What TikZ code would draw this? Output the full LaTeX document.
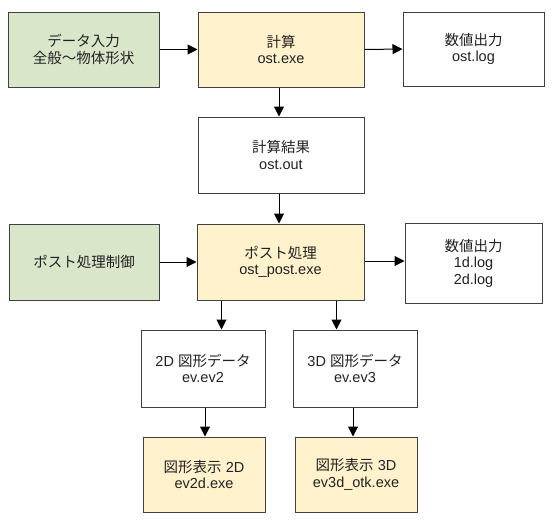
\documentclass[tikz,border=0pt]{standalone}
\usepackage{fontspec}
\setmainfont{Liberation Sans}
\newfontfamily\cjk{Noto Sans CJK JP}
\usetikzlibrary{arrows.meta}
\definecolor{boxgreen}{HTML}{DAE6CA}
\definecolor{boxyellow}{HTML}{FFF2CC}
\definecolor{boxline}{HTML}{404040}
\definecolor{txt}{HTML}{222222}
\tikzset{
  basebox/.style={draw=boxline, line width=1pt, inner sep=0pt, align=center,
    text=txt, font=\fontsize{14.5}{16.5}\selectfont},
  greenbox/.style={basebox, fill=boxgreen},
  yellowbox/.style={basebox, fill=boxyellow},
  whitebox/.style={basebox, fill=white},
  arr/.style={draw=black, line width=1pt, -{Triangle[length=10pt,width=10pt]}}
}
\begin{document}
\begin{tikzpicture}[x=1pt,y=-1pt]
\useasboundingbox (0,0) rectangle (553,525);
% row 1
\node[greenbox, minimum width=151pt, minimum height=75pt] (A) at (83.5,49.5)
  {\cjk データ入力\\\cjk 全般～物体形状};
\node[yellowbox, minimum width=166pt, minimum height=75pt] (B) at (281,49.5)
  {\cjk 計算\\ost.exe};
\node[whitebox, minimum width=141pt, minimum height=74pt] (C) at (473.5,49)
  {\cjk 数値出力\\ost.log};
% row 2
\node[whitebox, minimum width=166pt, minimum height=76pt] (D) at (281,155)
  {\cjk 計算結果\\ost.out};
% row 3
\node[greenbox, minimum width=150pt, minimum height=76pt] (E) at (84,262)
  {\cjk ポスト処理制御};
\node[yellowbox, minimum width=167pt, minimum height=76pt] (F) at (280.5,262)
  {\cjk ポスト処理\\ost\_post.exe};
\node[whitebox, minimum width=137pt, minimum height=80pt] (G) at (473.5,263)
  {\cjk 数値出力\\1d.log\\2d.log};
% row 4
\node[whitebox, minimum width=124pt, minimum height=77pt] (H) at (203,368.5)
  {2D {\cjk 図形データ}\\ev.ev2};
\node[whitebox, minimum width=124pt, minimum height=77pt] (I) at (355,368.5)
  {3D {\cjk 図形データ}\\ev.ev3};
% row 5
\node[yellowbox, minimum width=122pt, minimum height=75pt] (J) at (204,474.5)
  {{\cjk 図形表示} 2D\\ev2d.exe};
\node[yellowbox, minimum width=122pt, minimum height=75pt] (K) at (356,474.5)
  {{\cjk 図形表示} 3D\\ev3d\_otk.exe};
% connectors
\draw[arr] (A.east) -- (B.west);
\draw[arr] (B.east) -- (C.west);
\draw[arr] ([xshift=-2pt]B.south) -- ([xshift=-2pt]B.south |- D.north);
\draw[arr] ([xshift=-2pt]D.south) -- ([xshift=-2pt]D.south |- F.north);
\draw[arr] (E.east) -- (F.west);
\draw[arr] ([yshift=1pt]F.east) -- ([yshift=1pt]F.east -| G.west);
\draw[arr] ([xshift=25pt]F.south west) -- ([xshift=25pt]F.south west |- H.north);
\draw[arr] ([xshift=-28pt]F.south east) -- ([xshift=-28pt]F.south east |- I.north);
\draw[arr] ([xshift=2pt]H.south) -- ([xshift=2pt]H.south |- J.north);
\draw[arr] ([xshift=-2pt]I.south) -- ([xshift=-2pt]I.south |- K.north);
\end{tikzpicture}
\end{document}
